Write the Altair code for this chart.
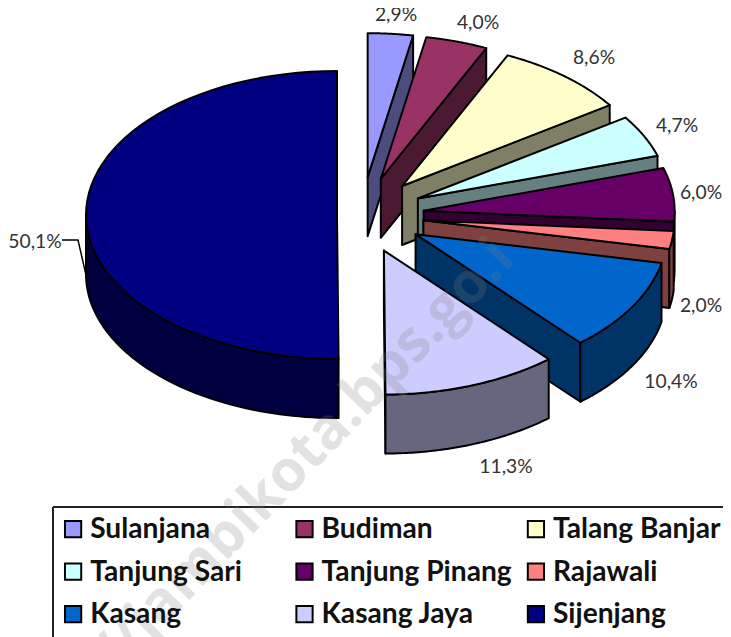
import math
import altair as alt

names = ["Sulanjana", "Budiman", "Talang Banjar", "Tanjung Sari", "Tanjung Pinang",
         "Rajawali", "Kasang", "Kasang Jaya", "Sijenjang"]
values = [2.9, 4.0, 8.6, 4.7, 6.0, 2.0, 10.4, 11.3, 50.1]
labels = ["2,9%", "4,0%", "8,6%", "4,7%", "6,0%", "2,0%", "10,4%", "11,3%", "50,1%"]
top_colors = ["#9999FF", "#993366", "#FFFFCC", "#CCFFFF", "#660066",
              "#FF8080", "#0066CC", "#CCCCFF", "#000080"]
side_colors = ["#4C4C7F", "#4C1933", "#7F7F66", "#667F7F", "#330033",
               "#7F4040", "#003366", "#66667F", "#000040"]
label_x = [396, 478, 594, 677, 701, 701, 671, 506, 35]
label_y = [14, 22, 57, 125, 192, 305, 381, 466, 241]
leader_x = [62, 78, 86]
leader_y = [239, 239, 274]

# The page shrinks a 723 px wide svg into its 715 px body, so page pixels are converted here.
S = 723 / 715


def X(p):
    return (p - 8) * S


def Y(p):
    return (p - 10.5) * S


# pie layout (page pixels)
RX, RY, DEPTH = 251, 144, 59
CX, CY, EX, EY = 362, 214, 62, 38
BIG_APEX = (337, 214)


def arc(ax, ay, t0, t1, dy=0, n=60):
    pts = []
    for i in range(n + 1):
        t = math.radians(t0 + (t1 - t0) * i / n)
        pts.append([X(ax + RX * math.sin(t)), Y(ay - RY * math.cos(t) + dy)])
    return pts


def feature(key, ring):
    ring = ring + [ring[0]]
    return {"type": "Feature", "properties": {"key": key},
            "geometry": {"type": "Polygon", "coordinates": [ring]}}


features = []
cum = 0.0
for name, v in zip(names, values):
    t0 = cum * 3.6
    t1 = (cum + v) * 3.6
    cum += v
    mid = math.radians((t0 + t1) / 2)
    if name == "Sijenjang":
        ax, ay = BIG_APEX
    else:
        ax = CX + EX * math.sin(mid)
        ay = CY - EY * math.cos(mid)
    side = name + " side"
    apex = [X(ax), Y(ay)]
    apex_low = [X(ax), Y(ay + DEPTH)]
    if name != "Sijenjang":
        end = arc(ax, ay, t1, t1, n=1)[0]
        end_low = arc(ax, ay, t1, t1, dy=DEPTH, n=1)[0]
        features.append(feature(side, [apex, end, end_low, apex_low]))
    a0, a1 = max(t0, 90), min(t1, 270)
    if a1 > a0:
        upper = arc(ax, ay, a0, a1)
        lower = arc(ax, ay, a0, a1, dy=DEPTH)
        features.append(feature(side, upper + lower[::-1]))
    features.append(feature(name, [apex] + arc(ax, ay, t0, t1)))

domain = names + [n + " side" for n in names]
colors = top_colors + side_colors

W, H = 723, 636

pie = alt.Chart(alt.Data(values=features)).mark_geoshape(
    stroke="black", strokeWidth=2, strokeJoin="round"
).encode(
    color=alt.Color(
        "properties.key:N",
        scale=alt.Scale(domain=domain, range=colors),
        legend=alt.Legend(
            values=names, title=None, orient="none", legendX=X(59), legendY=Y(514),
            direction="horizontal", columns=3, gridAlign="all", columnPadding=10, rowPadding=14,
            symbolType="square", symbolSize=270, symbolStrokeColor="black",
            symbolStrokeWidth=2, symbolOpacity=1,
            labelFont="Lato", labelFontSize=28.5, labelFontWeight="bold",
            labelColor="#111111", labelOffset=3, labelLimit=300,
        ),
    )
).project(type="identity", scale=1, translate=[0, 0])

label_rows = [{"t": t, "x": X(x), "y": Y(y + 0.5)} for t, x, y in zip(labels, label_x, label_y)]
text = alt.Chart(alt.Data(values=label_rows)).mark_text(
    font="Lato", fontSize=19.5, color="#333333"
).encode(x=alt.X("x:Q", scale=None), y=alt.Y("y:Q", scale=None), text="t:N")

leader_rows = [{"x": X(x), "y": Y(y)} for x, y in zip(leader_x, leader_y)]
leader = alt.Chart(alt.Data(values=leader_rows)).mark_line(color="black", strokeWidth=1.5).encode(
    x=alt.X("x:Q", scale=None), y=alt.Y("y:Q", scale=None), order=alt.Order("x:Q")
)

frame_top = alt.Chart(alt.Data(values=[{"a": 1}])).mark_rule(color="#222222", strokeWidth=2).encode(
    x=alt.value(X(53)), x2=alt.value(W), y=alt.value(Y(506)))
frame_left = alt.Chart(alt.Data(values=[{"a": 1}])).mark_rule(color="#222222", strokeWidth=2).encode(
    x=alt.value(X(53)), y=alt.value(Y(506)), y2=alt.value(H))
frame_bottom = alt.Chart(alt.Data(values=[{"a": 1}])).mark_rule(color="#dddddd", strokeWidth=1).encode(
    x=alt.value(X(53)), x2=alt.value(W), y=alt.value(Y(637)))

watermark = alt.Chart(alt.Data(values=[{"t": "//jambikota.bps.go.i"}])).mark_text(
    font="Open Sans", fontWeight="bold", fontSize=58, angle=314, color="#808080",
    opacity=0.22, align="center", baseline="middle"
).encode(text="t:N", x=alt.value(X(305)), y=alt.value(Y(455)))

chart = alt.layer(pie, leader, text, frame_top, frame_left, frame_bottom, watermark).properties(
    width=W, height=H, padding=0, autosize=alt.AutoSizeParams(type="none")
).configure_view(stroke=None, clip=False)

chart.save("out.html", embed_options={"renderer": "svg", "actions": False})
